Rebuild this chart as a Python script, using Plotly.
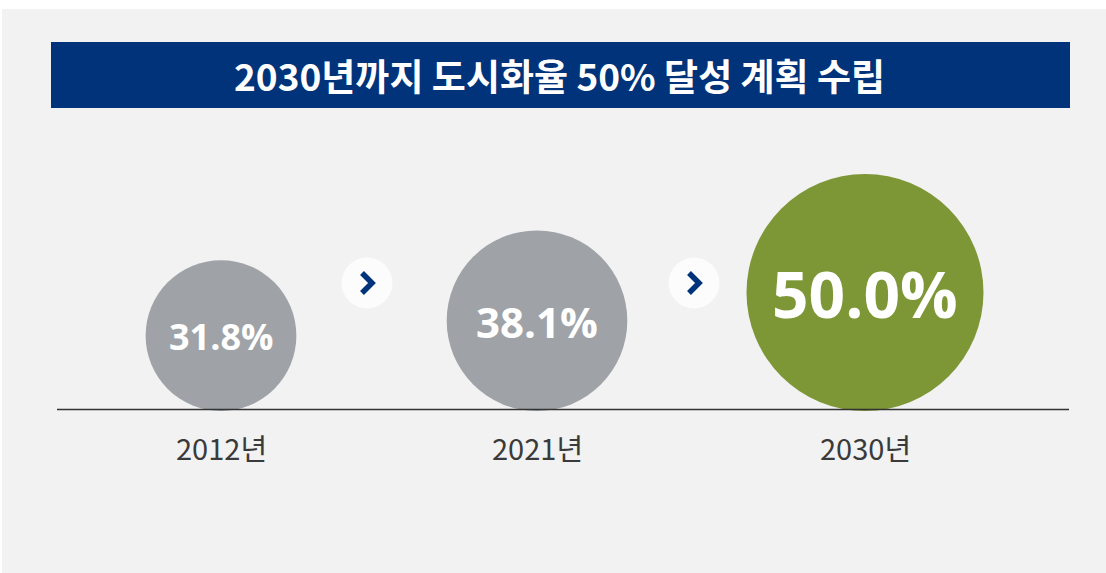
import plotly.graph_objects as go

# ---- data ----
years = ["2012년", "2021년", "2030년"]
rates = [31.8, 38.1, 50.0]
rate_labels = ["31.8%", "38.1%", "50.0%"]
title_text = "2030년까지 도시화율 50% 달성 계획 수립"

# ---- layout / style (pixel coordinates) ----
W, H = 1106, 573
x_pos = [221, 537, 865]
base_y = 411
px_per_pct = 2.37          # radius in px per percentage point
colors = ["#9FA3A7", "#9FA3A7", "#7D9636"]
label_sizes = [36, 42, 64]
arrows_x = [367, 694]
arrow_y = 283

radii = [r * px_per_pct for r in rates]
cy = [base_y - rr for rr in radii]

fig = go.Figure()

# bubbles
fig.add_trace(go.Scatter(
    x=x_pos, y=cy, mode="markers",
    marker=dict(size=[2 * rr for rr in radii], sizemode="diameter",
                color=colors, line=dict(width=0), opacity=1),
    hoverinfo="skip", showlegend=False,
))

shapes = []
# gray panel
shapes.append(dict(type="rect", xref="x", yref="y", x0=2, x1=W, y0=9, y1=H,
                   fillcolor="#F2F2F2", line=dict(width=0), layer="below"))
# title bar
shapes.append(dict(type="rect", xref="x", yref="y", x0=51, x1=1070, y0=42, y1=108,
                   fillcolor="#00337A", line=dict(width=0), layer="below"))
# baseline
shapes.append(dict(type="line", xref="x", yref="y", x0=57, x1=1069, y0=409.5, y1=409.5,
                   line=dict(color="#333333", width=1.5), layer="above"))
# arrows
for ax in arrows_x:
    shapes.append(dict(type="circle", xref="x", yref="y", x0=ax - 25.5, x1=ax + 25.5,
                       y0=arrow_y - 25.5, y1=arrow_y + 25.5,
                       fillcolor="#FCFCFC", line=dict(width=0), layer="below"))
    shapes.append(dict(type="path", xref="x", yref="y",
                       path=f"M {ax-5} {arrow_y-10} L {ax+5} {arrow_y} L {ax-5} {arrow_y+10}",
                       line=dict(color="#00337A", width=5.5), layer="above"))

annotations = []
annotations.append(dict(x=559, y=75, xref="x", yref="y", text=title_text, showarrow=False,
                        font=dict(family="Noto Sans CJK KR", size=37, color="white", weight="bold"),
                        xanchor="center", yanchor="middle"))
for x, c, lab, fs in zip(x_pos, cy, rate_labels, label_sizes):
    annotations.append(dict(x=x, y=c + 1, xref="x", yref="y", text=lab, showarrow=False,
                            font=dict(family="Open Sans", size=fs, color="white", weight="bold"),
                            xanchor="center", yanchor="middle"))
for x, yl in zip(x_pos, years):
    annotations.append(dict(x=x, y=447, xref="x", yref="y", text=yl, showarrow=False,
                            font=dict(family="Noto Sans CJK KR", size=29, color="#3A3A3A"),
                            xanchor="center", yanchor="middle"))

fig.update_layout(
    width=W, height=H, margin=dict(l=0, r=0, t=0, b=0),
    paper_bgcolor="white", plot_bgcolor="rgba(0,0,0,0)",
    xaxis=dict(range=[0, W], visible=False, fixedrange=True),
    yaxis=dict(range=[H, 0], visible=False, fixedrange=True),
    shapes=shapes, annotations=annotations, showlegend=False,
)

fig.write_html("out.html", config={"displayModeBar": False, "staticPlot": True},
               post_script="document.body.style.margin='0';document.body.style.padding='0';document.documentElement.style.overflow='hidden';")
